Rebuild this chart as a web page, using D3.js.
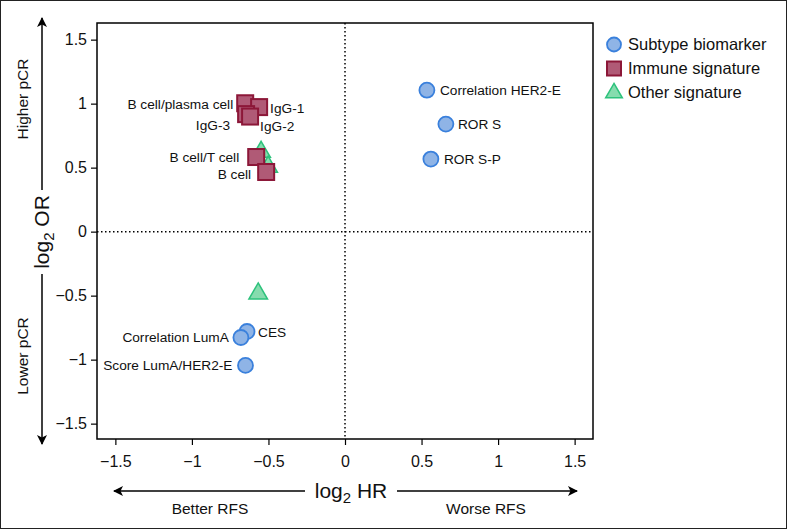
<!DOCTYPE html>
<html><head><meta charset="utf-8">
<script src="https://cdn.jsdelivr.net/npm/d3@7"></script>
<style>body{margin:0;background:#fff}svg{display:block;font-family:"Liberation Sans",Arial,sans-serif}</style>
</head><body>
<svg id="c" width="787" height="529"></svg>
<script>
// ---- data ----
const subtypeNames = ["Correlation HER2-E","ROR S","ROR S-P","CES","Correlation LumA","Score LumA/HER2-E"];
const subtypeHR = [0.535, 0.659, 0.561, -0.64, -0.68, -0.65];
const subtypeOR = [1.105, 0.84, 0.567, -0.78, -0.827, -1.045];

const immuneNames = ["B cell/plasma cell","IgG-1","IgG-3","IgG-2","B cell/T cell","B cell"];
const immuneHR = [-0.652, -0.561, -0.646, -0.62, -0.58, -0.515];
const immuneOR = [1.003, 0.973, 0.918, 0.899, 0.583, 0.466];

const otherHR = [-0.548, -0.502, -0.567];
const otherOR = [0.63, 0.513, -0.477];

const xTicks = [-1.5,-1,-0.5,0,0.5,1,1.5];
const yTicks = [-1.5,-1,-0.5,0,0.5,1,1.5];
const legendLabels = ["Subtype biomarker","Immune signature","Other signature"];

// label placement (side, dx, dy)
const subtypeLabelPos = [["r",13,0],["r",12,0],["r",13,0],["r",11,1],["l",-12,0],["l",-13,0]];
const immuneLabelPos = [["l",-12,1],["r",11,1],["l",-16,11],["r",10,10],["l",-17,0],["l",-15,2]];

// ---- layout ----
const svg = d3.select("#c");
const L=97, R=593, T=23, B=439;
const x = d3.scaleLinear().domain([-1.62,1.62]).range([L,R]);
const y = d3.scaleLinear().domain([-1.62,1.63]).range([B,T]);
const fmt = v => (v<0?"\u2212":"") + Math.abs(v);

svg.append("rect").attr("x",0.5).attr("y",0.5).attr("width",786).attr("height",528)
  .attr("fill","none").attr("stroke","#222").attr("stroke-width",1);

// zero lines
svg.append("line").attr("x1",x(0)).attr("x2",x(0)).attr("y1",T).attr("y2",B)
  .attr("stroke","#000").attr("stroke-width",1.5).attr("stroke-dasharray","1.5,2.5");
svg.append("line").attr("x1",L).attr("x2",R).attr("y1",y(0)).attr("y2",y(0))
  .attr("stroke","#000").attr("stroke-width",1.5).attr("stroke-dasharray","1.5,2.5");

// frame
svg.append("rect").attr("x",L).attr("y",T).attr("width",R-L).attr("height",B-T)
  .attr("fill","none").attr("stroke","#000").attr("stroke-width",1.5);

// axes
const xa = svg.append("g").attr("transform",`translate(0,${B})`)
  .call(d3.axisBottom(x).tickValues(xTicks).tickFormat(fmt).tickSize(6).tickSizeOuter(0));
const ya = svg.append("g").attr("transform",`translate(${L},0)`)
  .call(d3.axisLeft(y).tickValues(yTicks).tickFormat(fmt).tickSize(6).tickSizeOuter(0));
[xa,ya].forEach(a=>{
  a.select(".domain").remove();
  a.selectAll("line").attr("stroke","#000").attr("stroke-width",1.2);
  a.selectAll("text").attr("font-size",16).attr("fill","#111").attr("font-family","Liberation Sans, Arial, sans-serif");
});
xa.selectAll("text").attr("dy","1.2em");
ya.selectAll("text").attr("x",-10);

// arrows
const defs = svg.append("defs");
defs.append("marker").attr("id","ah").attr("viewBox","0 0 10 10").attr("refX",9).attr("refY",5)
  .attr("markerWidth",10).attr("markerHeight",10).attr("markerUnits","userSpaceOnUse").attr("orient","auto")
  .append("path").attr("d","M0,0 L10,5 L0,10 L2.5,5 Z").attr("fill","#000");
const axX = 42;
function arrow(x1,y1,x2,y2){svg.append("line").attr("x1",x1).attr("y1",y1).attr("x2",x2).attr("y2",y2)
  .attr("stroke","#000").attr("stroke-width",1.5).attr("marker-end","url(#ah)");}
arrow(axX,190,axX,18);
arrow(axX,274,axX,444);
arrow(305,491,114,491);
arrow(397,491,577,491);

// axis titles
const yt = svg.append("text").attr("transform",`translate(${axX+7},232) rotate(-90)`)
  .attr("text-anchor","middle").attr("font-size",21).attr("fill","#111");
yt.append("tspan").text("log");
yt.append("tspan").text("2").attr("font-size",15).attr("dy",5);
yt.append("tspan").text(" OR").attr("dy",-5);
const xt = svg.append("text").attr("x",351).attr("y",498)
  .attr("text-anchor","middle").attr("font-size",21).attr("fill","#111");
xt.append("tspan").text("log");
xt.append("tspan").text("2").attr("font-size",15).attr("dy",5);
xt.append("tspan").text(" HR").attr("dy",-5);

const sideFs = 15.5;
svg.append("text").attr("transform","translate(28,99) rotate(-90)").attr("text-anchor","middle")
  .attr("font-size",sideFs).attr("fill","#111").text("Higher pCR");
svg.append("text").attr("transform","translate(28,356) rotate(-90)").attr("text-anchor","middle")
  .attr("font-size",sideFs).attr("fill","#111").text("Lower pCR");
svg.append("text").attr("x",210).attr("y",514).attr("text-anchor","middle")
  .attr("font-size",sideFs).attr("fill","#111").text("Better RFS");
svg.append("text").attr("x",486).attr("y",514).attr("text-anchor","middle")
  .attr("font-size",sideFs).attr("fill","#111").text("Worse RFS");

// styles
const blueF="#8fb4e6", blueS="#3a80dc";
const redF="#b05a76", redS="#8c1738";
const greenF="#86dcae", greenS="#2dc27c";
const sq=16, tri=d3.symbol().type(d3.symbolTriangle).size(150);

// triangles (drawn first, behind)
svg.append("g").selectAll("path").data(otherHR).join("path")
  .attr("transform",(d,i)=>`translate(${x(d)},${y(otherOR[i])+1})`)
  .attr("d",tri).attr("fill",greenF).attr("stroke",greenS).attr("stroke-width",1.5);

// squares
svg.append("g").selectAll("rect").data(immuneHR).join("rect")
  .attr("x",d=>x(d)-sq/2).attr("y",(d,i)=>y(immuneOR[i])-sq/2).attr("width",sq).attr("height",sq)
  .attr("fill",redF).attr("stroke",redS).attr("stroke-width",2);

// circles
svg.append("g").selectAll("circle").data(subtypeHR).join("circle")
  .attr("cx",d=>x(d)).attr("cy",(d,i)=>y(subtypeOR[i])).attr("r",7.5)
  .attr("fill",blueF).attr("stroke",blueS).attr("stroke-width",1.8);

// labels
function labels(names,hr,or,pos){
  svg.append("g").selectAll("text").data(names).join("text")
    .attr("x",(d,i)=>x(hr[i])+pos[i][1]).attr("y",(d,i)=>y(or[i])+pos[i][2])
    .attr("dy","0.35em").attr("text-anchor",(d,i)=>pos[i][0]==="l"?"end":"start")
    .attr("font-size",13.7).attr("fill","#111").text(d=>d);
}
labels(subtypeNames,subtypeHR,subtypeOR,subtypeLabelPos);
labels(immuneNames,immuneHR,immuneOR,immuneLabelPos);

// legend
const lg = svg.append("g").attr("transform","translate(614,0)");
const ly=[44.5,68.5,92];
lg.append("circle").attr("cx",0).attr("cy",ly[0]).attr("r",7).attr("fill",blueF).attr("stroke",blueS).attr("stroke-width",1.8);
lg.append("rect").attr("x",-7).attr("y",ly[1]-7).attr("width",14).attr("height",14).attr("fill",redF).attr("stroke",redS).attr("stroke-width",2);
lg.append("path").attr("transform",`translate(0,${ly[2]+1})`).attr("d",d3.symbol().type(d3.symbolTriangle).size(120))
  .attr("fill",greenF).attr("stroke",greenS).attr("stroke-width",1.5);
lg.selectAll("text.l").data(legendLabels).join("text").attr("class","l")
  .attr("x",14).attr("y",(d,i)=>ly[i]).attr("dy","0.36em").attr("font-size",16.5).attr("fill","#111").text(d=>d);
</script>
</body></html>
